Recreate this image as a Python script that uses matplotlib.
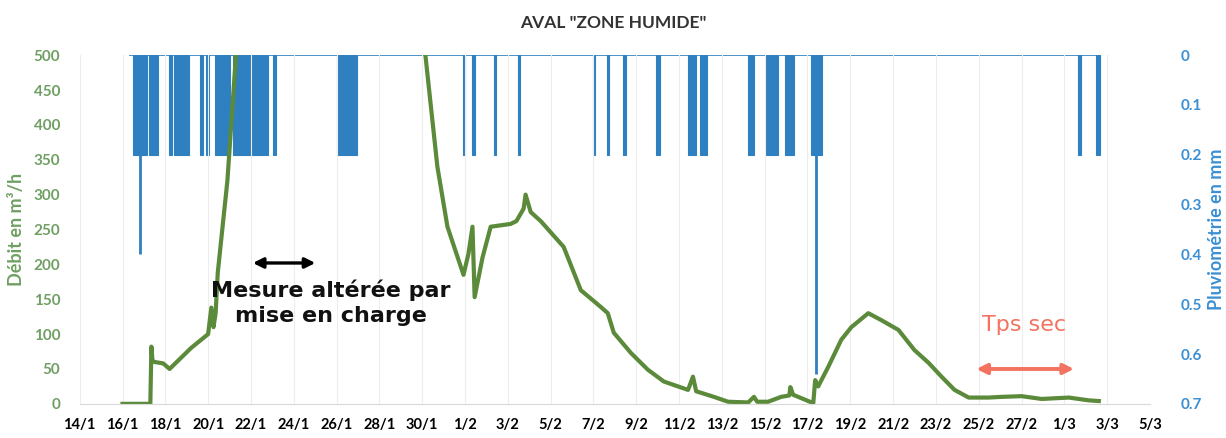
import numpy as np
import matplotlib
matplotlib.use('Agg')
import matplotlib.pyplot as plt

plt.rcParams['font.family'] = ['Lato', 'DejaVu Sans']

# days counted from 14/1
flow_days = [2.0, 3.3, 3.35, 3.4, 3.5, 3.9, 4.2, 4.6, 5.2, 5.8, 6.0, 6.15, 6.25, 6.35, 6.45, 6.9, 7.3, 7.6,
             15.9, 16.15, 16.71, 17.18, 17.93, 18.16, 18.35, 18.45, 18.82, 19.2, 20.13, 20.4, 20.74, 20.83,
             21.07, 21.54, 22.61, 23.41, 24.34, 24.67, 24.95, 25.75, 26.54, 27.29, 28.42, 28.65, 28.8,
             29.63, 30.29, 31.23, 31.5, 31.65, 32.16, 32.77, 33.15, 33.2, 33.33, 34.27, 34.36, 34.5,
             34.97, 35.58, 36.05, 36.84, 37.45, 38.25, 39.0, 39.65, 40.26, 40.87, 41.53, 42.46, 43.07,
             44.0, 44.94, 46.21, 47.14, 47.61]
flow_vals = [0, 0, 82, 62, 60, 58, 50, 62, 80, 95, 100, 138, 110, 130, 188, 320, 500, 560,
             560, 500, 340, 254, 185, 215, 254, 153, 210, 254, 258, 262, 280, 300,
             275, 262, 225, 163, 139, 130, 102, 73, 49, 32, 20, 39, 18,
             10, 3, 2, 10, 3, 3, 10, 12, 24, 13, 1, 34, 25,
             53, 92, 110, 130, 120, 106, 77, 59, 39, 20, 9, 9, 10,
             11, 7, 9, 5, 4]

# rain blocks (start day, end day) at 0.2 mm
rain_start = [2.48, 3.23, 4.17, 4.40, 5.62, 5.90, 6.32, 7.16, 9.04, 12.03, 17.93, 18.35, 19.34, 20.46,
              23.97, 24.63, 25.37, 26.92, 28.42, 28.98, 31.23, 32.07, 32.96, 34.18, 46.63, 47.47]
rain_end = [3.14, 3.65, 4.31, 5.10, 5.76, 6.04, 7.02, 8.80, 9.18, 12.97, 18.02, 18.49, 19.43, 20.55,
            24.06, 24.72, 25.51, 27.11, 28.79, 29.31, 31.51, 32.63, 33.38, 34.69, 46.77, 47.66]
rain_level = 0.2
rain_peak_days = [2.81, 34.41]
rain_peak_vals = [0.4, 0.64]
rain_span = [2.3, 47.7]

tick_days = list(range(0, 51, 2))
tick_labels = ['14/1', '16/1', '18/1', '20/1', '22/1', '24/1', '26/1', '28/1', '30/1', '1/2', '3/2',
               '5/2', '7/2', '9/2', '11/2', '13/2', '15/2', '17/2', '19/2', '21/2', '23/2', '25/2',
               '27/2', '1/3', '3/3', '5/3']

green = '#5b8a3a'
green_txt = '#6f9f63'
blue = '#2e80c0'
blue_txt = '#3b8fd2'
salmon = '#f4725f'

fig = plt.figure(figsize=(12.26, 4.38), dpi=100)
ax = fig.add_axes([0.065, 0.078, 0.873, 0.796])
ax2 = ax.twinx()

ax.set_zorder(2)
ax.patch.set_visible(False)

# rain on secondary axis (inverted)
ax2.bar(rain_start, rain_level, width=np.array(rain_end) - np.array(rain_start), align='edge',
        color=blue, edgecolor=blue, linewidth=0.8)
ax2.vlines(rain_peak_days, 0, rain_peak_vals, color=blue, linewidth=2)
ax2.hlines(0, rain_span[0], rain_span[1], color=blue, linewidth=1.2)
ax2.set_ylim(0.7, 0)
ax2.set_yticks(np.arange(0, 0.71, 0.1))
ax2.set_yticklabels(['0', '0.1', '0.2', '0.3', '0.4', '0.5', '0.6', '0.7'])
ax2.set_ylabel('Pluviométrie en mm', color=blue_txt, fontsize=13, fontweight='bold', labelpad=4)

# flow
ax.plot(flow_days, flow_vals, color=green, linewidth=3, solid_joinstyle='round')
ax.set_ylim(0, 500)
ax.set_xlim(0, 50)
ax.set_yticks(range(0, 501, 50))
ax.set_ylabel('Débit en m³/h', color=green_txt, fontsize=13, fontweight='bold', labelpad=6)
ax.set_xticks(tick_days)
ax.set_xticklabels(tick_labels)
ax.grid(axis='x', color='#ededed', linewidth=0.8)

for a in (ax, ax2):
    for s in a.spines.values():
        s.set_visible(False)
ax.spines['bottom'].set_visible(True)
ax.spines['bottom'].set_color('#d9d9d9')

ax.tick_params(axis='y', length=0, labelcolor=green_txt, labelsize=11, pad=14)
ax.tick_params(axis='x', length=0, labelsize=10.5, pad=10)
ax2.tick_params(axis='y', length=0, labelcolor=blue_txt, labelsize=11, pad=22)
for lab in ax.get_yticklabels() + ax.get_xticklabels() + ax2.get_yticklabels():
    lab.set_fontweight('bold')

# annotations
ax.annotate('', xy=(7.96, 202), xytext=(11.14, 202),
            arrowprops=dict(arrowstyle='<|-|>', color='black', lw=2.4, mutation_scale=15))
ax.text(11.75, 145, 'Mesure altérée par\nmise en charge', ha='center', va='center',
        fontsize=16, fontweight='bold', color='#111111', linespacing=1.3, family='DejaVu Sans')
ax.annotate('', xy=(41.76, 50), xytext=(46.58, 50),
            arrowprops=dict(arrowstyle='<|-|>', color=salmon, lw=2.8, mutation_scale=15))
ax.text(44.1, 113, 'Tps sec', ha='center', va='center', fontsize=16, color=salmon,
        family='DejaVu Sans')

fig.suptitle('AVAL "ZONE HUMIDE"', y=0.965, fontsize=12.5, fontweight='bold', color='#333333')

fig.savefig('out.png', dpi=100)
